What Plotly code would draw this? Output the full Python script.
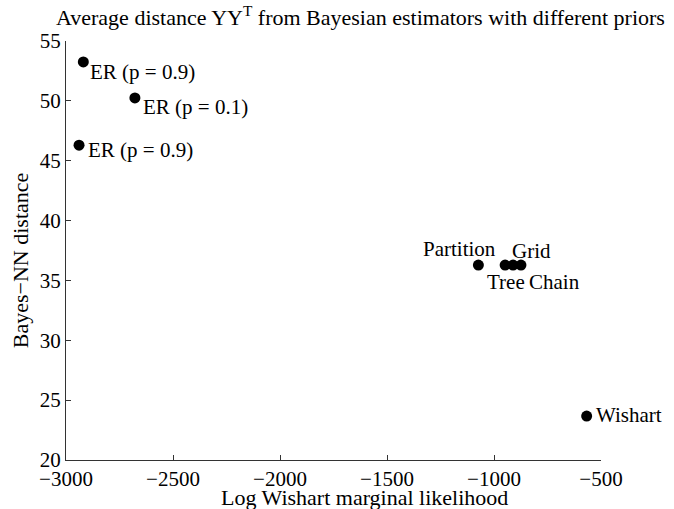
import plotly.graph_objects as go

labels = ["ER (p = 0.9)", "ER (p = 0.1)", "ER (p = 0.9)", "Partition", "Tree", "Grid", "Chain", "Wishart"]
log_likelihood = [-2919, -2678, -2939, -1073, -948, -911, -874, -567]
bayes_nn_distance = [53.25, 50.24, 46.3, 36.28, 36.28, 36.28, 36.28, 23.67]

x_ticks = [-3000, -2500, -2000, -1500, -1000, -500]
y_ticks = [20, 25, 30, 35, 40, 45, 50, 55]

# label placement: (xanchor, xshift px, yshift px)
label_style = [
    ("left", 6, -10),
    ("left", 7, -9),
    ("left", 8, -5),
    ("right", 19, 16),
    ("left", -19, -17),
    ("left", -2, 14),
    ("left", 7, -17),
    ("left", 8, 1),
]

FONT = "Liberation Serif, Times New Roman, Times, serif"
W, H = 674, 509
L, R, T, B = 66, 73, 40.5, 49
pw = W - L - R
ph = H - T - B

fig = go.Figure()
fig.add_trace(go.Scatter(
    x=log_likelihood, y=bayes_nn_distance, mode="markers",
    marker=dict(color="black", size=11),
    showlegend=False, hoverinfo="skip",
))

annotations = []
for lab, xv, yv, (xa, xs, ys) in zip(labels, log_likelihood, bayes_nn_distance, label_style):
    annotations.append(dict(
        x=xv, y=yv, xref="x", yref="y", text=lab, showarrow=False,
        xanchor=xa, yanchor="middle", xshift=xs, yshift=ys,
        font=dict(family=FONT, size=21, color="black"), borderpad=0,
    ))

annotations.append(dict(
    x=(360 - L) / pw, y=1 + (T - 15) / ph, xref="paper", yref="paper",
    text="Average distance YY<sup>T</sup> from Bayesian estimators with different priors",
    showarrow=False, xanchor="center", yanchor="middle",
    font=dict(family=FONT, size=22, color="black"),
))
annotations.append(dict(
    x=(364 - L) / pw, y=-(498 - (H - B)) / ph, xref="paper", yref="paper",
    text="Log Wishart marginal likelihood", showarrow=False,
    xanchor="center", yanchor="middle", borderpad=0,
    font=dict(family=FONT, size=22, color="black"),
))
annotations.append(dict(
    x=-(L - 20) / pw, y=(H - B - 260) / ph, xref="paper", yref="paper",
    text="Bayes\u2212NN distance", showarrow=False, textangle=-90,
    xanchor="center", yanchor="middle",
    font=dict(family=FONT, size=22, color="black"),
))

fig.update_layout(
    width=W, height=H,
    margin=dict(l=L, r=R, t=T, b=B, pad=0),
    paper_bgcolor="white", plot_bgcolor="white",
    font=dict(family=FONT, size=21, color="black"),
    annotations=annotations,
    xaxis=dict(
        range=[-3000, -500], tickvals=x_ticks, ticks="inside", ticklen=5,
        tickcolor="#333", showline=True, linecolor="#333", linewidth=1,
        showgrid=False, zeroline=False, mirror=False,
        tickfont=dict(family=FONT, size=21, color="black"),
        ticklabelstandoff=0,
    ),
    yaxis=dict(
        range=[20, 55], tickvals=y_ticks, ticks="inside", ticklen=5,
        tickcolor="#333", showline=True, linecolor="#333", linewidth=1,
        showgrid=False, zeroline=False, mirror=False,
        tickfont=dict(family=FONT, size=21, color="black"),
        ticklabelstandoff=0,
    ),
)

fig.write_html(
    "out.html",
    config={"displayModeBar": False},
    post_script="document.body.style.margin='0';document.body.style.overflow='hidden';",
)
